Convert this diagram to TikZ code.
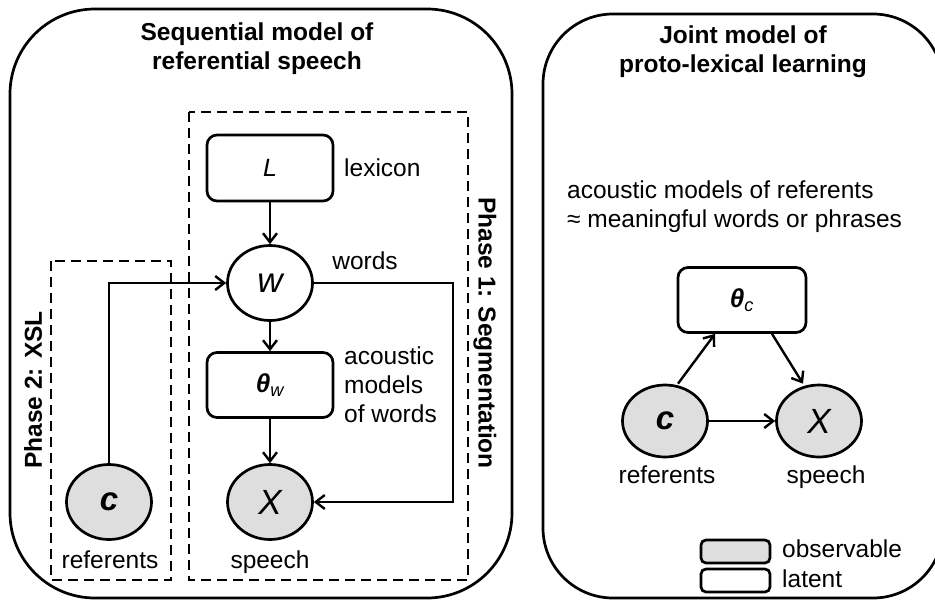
\documentclass[tikz,border=0pt]{standalone}
\usepackage{fontspec}
\setmainfont{Liberation Sans}
\usetikzlibrary{arrows.meta,shapes.geometric}

\begin{document}
\begin{tikzpicture}[x=1pt, y=-1pt, line width=2.4pt,
  >={Straight Barb[length=9pt,width=14pt]},
  latnode/.style={draw, ellipse, minimum width=85pt, minimum height=75pt, inner sep=0pt, line width=2.7pt},
  obsnode/.style={latnode, fill=black!13},
  parnode/.style={draw, rectangle, rounded corners=10pt, minimum width=126pt, minimum height=66pt, inner sep=0pt, line width=2.7pt},
  txt/.style={inner sep=0pt, font=\fontsize{24.5}{29}\selectfont},
  ttl/.style={inner sep=0pt, align=center, font=\fontsize{24.5}{29}\selectfont\bfseries},
  outer/.style={line width=2.7pt, rounded corners=85pt},
  phase/.style={line width=2.4pt, dash pattern=on 10pt off 6pt}]

\def\xm{270}; % main column
\def\xc{109}; % referents column
\def\xr{453}; % return line
\def\yL{168}; % lexicon
\def\yw{283}; % words
\def\yt{385}; % acoustic models
\def\yX{502}; % speech
\def\ylab{568}; % baseline of labels

\useasboundingbox (0,0) rectangle (935,600);
\clip (0,0) rectangle (935,600);

\draw[outer] (10,9) rectangle (512,598);
\draw[outer, rounded corners=70pt] (543,14) rectangle (943,598);

\draw[phase] (189,112) rectangle (468,580); % phase 1
\draw[phase] (51,261) rectangle (171,580); % phase 2

% sequential model
\node[ttl] (ttlA) at (257,49) {Sequential model of\\referential speech};

\node[parnode] (L) at (\xm,\yL) {\fontsize{25}{28}\selectfont\itshape L};
\node[latnode] (w) at (\xm,\yw) {\fontsize{35}{40}\selectfont\itshape w};
\node[parnode, minimum height=65pt] (thw) at (\xm,\yt) {\fontsize{26}{28}\selectfont\bfseries\itshape θ\textsubscript{\mdseries w}};
\node[obsnode] (X) at (\xm,\yX) {\fontsize{35}{40}\selectfont\itshape X};
\node[obsnode] (c) at (\xc,\yX) {\fontsize{33}{38}\selectfont\bfseries\itshape c};

\node[txt, anchor=base west] (lex) at (343,176) {lexicon};
\node[txt, anchor=base] (wlab) at (365,269) {words};
\node[txt, anchor=west, align=left] (thlab) at (343,385) {acoustic\\models\\of words};
\node[txt, anchor=base] (Xlab) at (\xm,\ylab) {speech};
\node[txt, anchor=base] (clab) at (110,\ylab) {referents};

\node[ttl, rotate=90] (ph2) at (33,390) {Phase 2: XSL};
\node[ttl, rotate=-90] (ph1) at (485,333) {Phase 1: Segmentation};

\draw[->] (L) -- (w);
\draw[->] (w) -- (thw);
\draw[->] (thw) -- (X);
\coordinate (cup) at (\xc,\yw);
\draw[->] (c) -- (cup) -- (w);
\coordinate (wr) at (\xr,\yw);
\draw[->] (w) -- (wr) |- (X);

% joint model
\node[ttl] (ttlB) at (743,52) {Joint model of\\proto-lexical learning};
\node[txt, anchor=west, align=left] (note) at (566,207) {acoustic models of referents\\≈ meaningful words or phrases};

\node[parnode, minimum width=128pt, minimum height=65pt] (thc) at (742,300) {\fontsize{26}{28}\selectfont\bfseries\itshape θ\textsubscript{\mdseries c}};
\node[obsnode, minimum height=72pt] (c2) at (665,421) {\fontsize{33}{38}\selectfont\bfseries\itshape c};
\node[obsnode, minimum height=72pt] (X2) at (819,421) {\fontsize{35}{40}\selectfont\itshape X};
\node[txt, anchor=base] (c2lab) at (667,483) {referents};
\node[txt, anchor=base] (X2lab) at (826,483) {speech};

\draw[->] ([xshift=13pt]c2.north) -- ([xshift=-27pt]thc.south);
\draw[->] ([xshift=30pt]thc.south) -- ([xshift=-16pt]X2.north);
\draw[->] (c2) -- (X2);

% legend
\node[parnode, fill=black!13, minimum width=69pt, minimum height=23pt, rounded corners=5pt] (obsbox) at (735.5,551.5) {};
\node[txt, anchor=base west] (obslab) at (781,557) {observable};
\node[parnode, minimum width=69pt, minimum height=23pt, rounded corners=5pt] (latbox) at (735.5,580.5) {};
\node[txt, anchor=base west] (latlab) at (781,587) {latent};

\end{tikzpicture}
\end{document}
